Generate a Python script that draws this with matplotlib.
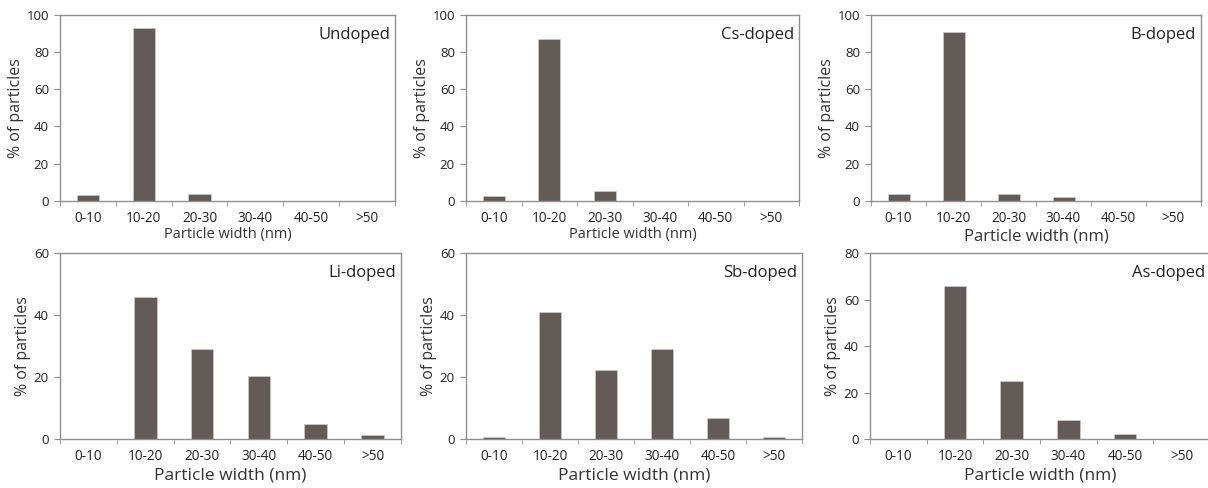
import matplotlib
matplotlib.use("Agg")
import matplotlib.pyplot as plt
import numpy as np

plt.rcParams['font.family'] = ['Open Sans', 'DejaVu Sans']

categories = ["0-10", "10-20", "20-30", "30-40", "40-50", ">50"]
panel_names = ["Undoped", "Cs-doped", "B-doped", "Li-doped", "Sb-doped", "As-doped"]
undoped = [3.0, 92.8, 3.8, 0, 0, 0]
cs_doped = [2.7, 87.1, 5.4, 0, 0, 0]
b_doped = [3.6, 90.6, 3.6, 1.9, 0, 0]
li_doped = [0, 46.0, 29.0, 20.2, 4.8, 1.2]
sb_doped = [0.8, 41.1, 22.3, 29.0, 6.8, 0.8]
as_doped = [0, 65.8, 24.9, 8.1, 2.0, 0]
series = [undoped, cs_doped, b_doped, li_doped, sb_doped, as_doped]
ymax = [100, 100, 100, 60, 60, 80]
ystep = [20, 20, 20, 20, 20, 20]

W, H = 1208, 488
fig = plt.figure(figsize=(W / 100, H / 100), dpi=100)

# pixel boxes: left, right, top, bottom
boxes = [
    (60, 395, 15, 200.7),
    (466, 799, 15, 200.7),
    (871, 1201, 15, 200.7),
    (60, 401, 253.3, 439),
    (466, 802, 253.3, 439),
    (870, 1210, 253.3, 439),
]
xlabel_sizes = [10.5, 10.5, 12, 12.5, 12.5, 12.5]
xlabel_pads = [0.5, 0.5, 1.5, 2, 2, 2]
frame_col = "#8f8f8f"
bar_col = "#625b58"

for i, (name, vals) in enumerate(zip(panel_names, series)):
    l, r, t, b = boxes[i]
    ax = fig.add_axes([l / W, 1 - b / H, (r - l) / W, (b - t) / H])
    x = np.arange(len(categories))
    ax.bar(x, vals, width=0.4, color=bar_col, edgecolor="#d8d4d2", linewidth=0.4)
    ax.set_xlim(-0.5, len(categories) - 0.5)
    ax.set_ylim(0, ymax[i])
    ax.set_yticks(np.arange(0, ymax[i] + 1, ystep[i]))
    ax.set_xticks(x)
    ax.set_xticklabels(categories, fontsize=9.8, color="#222222")
    ax.set_xticks(np.arange(-0.5, len(categories), 1.0), minor=True)
    ax.tick_params(axis='x', which='major', length=0, pad=7.5)
    ax.tick_params(axis='x', which='minor', length=3.5, color=frame_col, direction='out')
    ax.tick_params(axis='y', length=4, color=frame_col, labelsize=9.5, labelcolor="#222222", pad=4)
    for s in ax.spines.values():
        s.set_color(frame_col)
        s.set_linewidth(1.0)
    ax.set_ylabel("% of particles", fontsize=11.5, color="#333333", labelpad=2)
    ax.set_xlabel("Particle width (nm)", fontsize=xlabel_sizes[i], color="#333333",
                  labelpad=xlabel_pads[i])
    ax.text(0.985, 0.935, name, transform=ax.transAxes, ha='right', va='top',
            fontsize=12, color="#222222")

fig.savefig("out.png", dpi=100, facecolor="white")
